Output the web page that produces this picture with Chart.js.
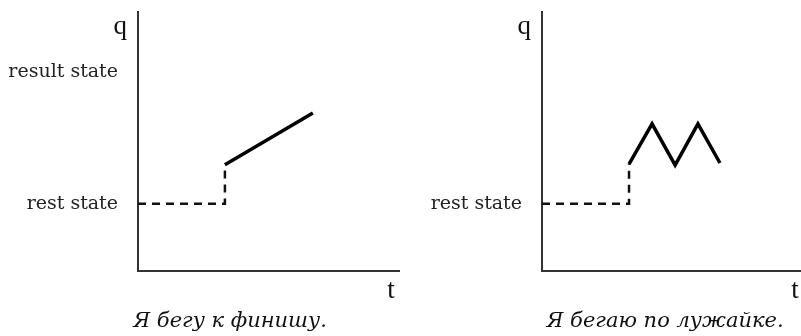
<!DOCTYPE html>
<html>
<head>
<meta charset="utf-8">
<script src="https://cdn.jsdelivr.net/npm/chart.js@4"></script>
<style>
  body { margin: 0; background: #fff; }
  #wrap { position: relative; width: 801px; height: 336px; }
  canvas { position: absolute; top: 0; }
</style>
</head>
<body>
<div id="wrap">
  <canvas id="leftChart" width="400" height="336" style="left:0"></canvas>
  <canvas id="rightChart" width="401" height="336" style="left:400px"></canvas>
</div>
<script>
// levels on the q axis (0..100)
const leftTickValues = [26, 77];
const leftTickLabels = ["rest state", "result state"];
const rightTickValues = [26];
const rightTickLabels = ["rest state"];

// left panel: "Я бегу к финишу."
const leftDashedX = [0, 33.3, 33.3];
const leftDashedY = [26, 26, 41];
const leftSolidX = [33.3, 67];
const leftSolidY = [41, 61];

// right panel: "Я бегаю по лужайке."
const rightDashedX = [0, 33.6, 33.6];
const rightDashedY = [26, 26, 41.3];
const rightSolidX = [33.6, 42.5, 51.4, 60.2, 68.7];
const rightSolidY = [41.3, 56.8, 40.9, 56.8, 41.7];

const captions = ["Я бегу к финишу.", "Я бегаю по лужайке."];

function toPoints(xs, ys) {
  return xs.map((x, i) => ({ x: x, y: ys[i] }));
}

// draws q, t and the caption
const labelsPlugin = {
  id: "axisLabels",
  afterDraw(chart, args, opts) {
    const ctx = chart.ctx;
    const area = chart.chartArea;
    ctx.save();
    ctx.fillStyle = "#111";
    ctx.font = "27px 'Liberation Serif'";
    ctx.textAlign = "right";
    ctx.textBaseline = "alphabetic";
    ctx.fillText("q", area.left - 11, area.top + 22);
    ctx.textAlign = "center";
    ctx.fillText("t", area.right - opts.tOffset, area.bottom + 27);
    ctx.font = "italic 21px 'DejaVu Serif'";
    ctx.fillText(opts.caption, area.left + opts.captionOffset, area.bottom + 56);
    ctx.restore();
  }
};

function makeChart(id, dashed, solid, tickValues, tickLabels, yWidth, padRight, caption, captionOffset, tOffset) {
  // build a chart
  new Chart(document.getElementById(id).getContext("2d"), {
    type: "line",
    data: {
      datasets: [
        {
          data: dashed,
          borderColor: "#111",
          borderWidth: 2.5,
          borderDash: [8, 6],
          pointRadius: 0,
          fill: false
        },
        {
          data: solid,
          borderColor: "#000",
          borderWidth: 3.5,
          borderJoinStyle: "miter",
          pointRadius: 0,
          fill: false
        }
      ]
    },
    options: {
      responsive: false,
      animation: false,
      devicePixelRatio: 1,
      layout: { padding: { top: 12, right: padRight, bottom: 0, left: 0 } },
      plugins: {
        legend: { display: false },
        tooltip: { enabled: false },
        axisLabels: { caption: caption, captionOffset: captionOffset, tOffset: tOffset }
      },
      scales: {
        x: {
          type: "linear",
          min: 0,
          max: 100,
          grid: { display: false, drawTicks: false },
          border: { display: true, color: "#333", width: 2 },
          ticks: { display: false },
          afterFit(scale) {
            scale.height = 65;
            scale.paddingLeft = 0;
            scale.paddingRight = 0;
          }
        },
        y: {
          type: "linear",
          min: 0,
          max: 100,
          grid: { display: false, drawTicks: false },
          border: { display: true, color: "#333", width: 2 },
          afterBuildTicks(scale) {
            scale.ticks = tickValues.map((v) => ({ value: v }));
          },
          ticks: {
            padding: 20,
            color: "#222",
            font: { family: "'DejaVu Serif'", size: 19 },
            callback: (value) => tickLabels[tickValues.indexOf(value)]
          },
          afterFit(scale) {
            scale.width = yWidth;
            scale.paddingTop = 0;
            scale.paddingBottom = 0;
          }
        }
      }
    },
    plugins: [labelsPlugin]
  });
}

makeChart("leftChart",
  toPoints(leftDashedX, leftDashedY), toPoints(leftSolidX, leftSolidY),
  leftTickValues, leftTickLabels, 138, 1, captions[0], 92, 8);

makeChart("rightChart",
  toPoints(rightDashedX, rightDashedY), toPoints(rightSolidX, rightSolidY),
  rightTickValues, rightTickLabels, 142, 0, captions[1], 123, 6);
</script>
</body>
</html>
